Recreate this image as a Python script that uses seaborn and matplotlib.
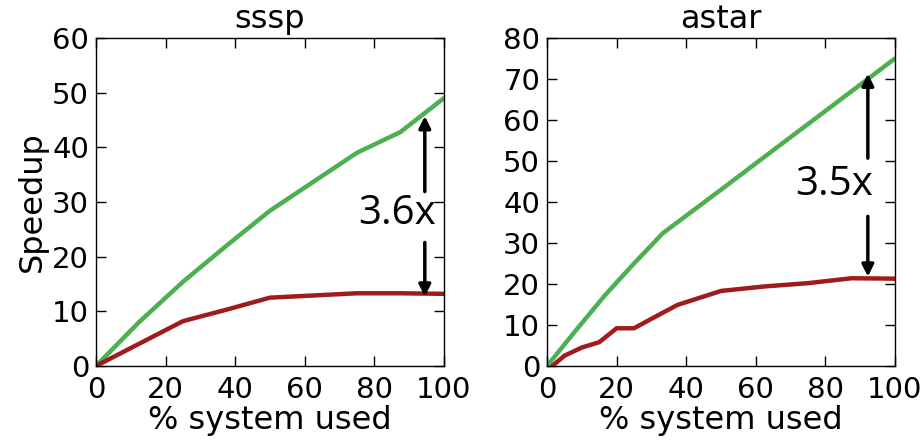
import numpy as np
import pandas as pd
import matplotlib
matplotlib.use("Agg")
import matplotlib.pyplot as plt
import seaborn as sns

# --- Data ---
sssp_x = [0, 12.5, 25, 37.5, 50, 62.5, 75, 87.5, 100]
sssp_green = [0, 8.1, 15.4, 22.0, 28.4, 33.7, 39.0, 42.8, 49.0]
sssp_red = [0, 4.1, 8.2, 10.3, 12.5, 12.9, 13.3, 13.3, 13.2]

astar_green_x = [0, 8.3, 16.7, 25, 33.3, 50, 66.7, 83.3, 100]
astar_green = [0, 8.7, 17.3, 25.0, 32.4, 43.0, 53.7, 64.3, 75.0]
astar_red_x = [1.5, 5, 10, 15, 20, 25, 30, 37.5, 50, 62.5, 75, 87.5, 100]
astar_red = [0, 2.5, 4.5, 5.8, 9.2, 9.2, 11.5, 14.9, 18.3, 19.4, 20.2, 21.4, 21.3]

green = "#4caf50"
red = "#a01c1c"

sns.set_style("ticks")
plt.rcParams['font.family'] = ['DejaVu Sans']
plt.rcParams.update({
    'xtick.direction': 'in', 'ytick.direction': 'in',
    'xtick.top': True, 'ytick.right': True,
    'xtick.major.size': 7, 'ytick.major.size': 7,
    'axes.edgecolor': 'black', 'axes.linewidth': 1.0,
    'text.color': 'black', 'axes.labelcolor': 'black',
    'xtick.color': 'black', 'ytick.color': 'black',
})

fs = 21      # tick labels
lfs = 23     # titles and axis labels

fig = plt.figure(figsize=(9.22, 4.41), dpi=100)
ax1 = fig.add_axes([0.1041, 0.1701, 0.3774, 0.7438])
ax2 = fig.add_axes([0.5933, 0.1701, 0.3774, 0.7438])

df1g = pd.DataFrame({'x': sssp_x, 'y': sssp_green})
df1r = pd.DataFrame({'x': sssp_x, 'y': sssp_red})
sns.lineplot(data=df1g, x='x', y='y', ax=ax1, color=green, linewidth=3.2)
sns.lineplot(data=df1r, x='x', y='y', ax=ax1, color=red, linewidth=3.2)

df2g = pd.DataFrame({'x': astar_green_x, 'y': astar_green})
df2r = pd.DataFrame({'x': astar_red_x, 'y': astar_red})
sns.lineplot(data=df2g, x='x', y='y', ax=ax2, color=green, linewidth=3.2)
sns.lineplot(data=df2r, x='x', y='y', ax=ax2, color=red, linewidth=3.2)

ax1.set_xlim(0, 100)
ax1.set_ylim(0, 60)
ax1.set_yticks(range(0, 61, 10))
ax2.set_xlim(0, 100)
ax2.set_ylim(0, 80)
ax2.set_yticks(range(0, 81, 10))

for ax, title in [(ax1, 'sssp'), (ax2, 'astar')]:
    ax.set_title(title, fontsize=lfs, pad=7)
    ax.set_xlabel('% system used', fontsize=lfs, labelpad=1)
    ax.tick_params(axis='x', labelsize=fs, pad=7, width=1)
    ax.tick_params(axis='y', labelsize=fs, pad=5, width=1)
    ax.set_xticks([0, 20, 40, 60, 80, 100])
ax1.set_ylabel('Speedup', fontsize=lfs, labelpad=3)
ax2.set_ylabel('')

arrow = dict(arrowstyle='-|>,head_width=0.35,head_length=0.7', color='black', lw=2.5,
             shrinkA=0, shrinkB=0)
note_font = ['Open Sans', 'DejaVu Sans']

# sssp annotation
ax1.annotate('', xy=(94.5, 45.7), xytext=(94.5, 31.9), arrowprops=arrow)
ax1.annotate('', xy=(94.5, 12.7), xytext=(94.5, 22.6), arrowprops=arrow)
ax1.text(86.4, 27.8, '3.6x', fontsize=29, ha='center', va='center', family=note_font)

# astar annotation
ax2.annotate('', xy=(92.2, 71.3), xytext=(92.2, 50.7), arrowprops=arrow)
ax2.annotate('', xy=(92.2, 21.8), xytext=(92.2, 36.5), arrowprops=arrow)
ax2.text(82.5, 44.2, '3.5x', fontsize=29, ha='center', va='center', family=note_font)

fig.savefig('out.png', dpi=100)
